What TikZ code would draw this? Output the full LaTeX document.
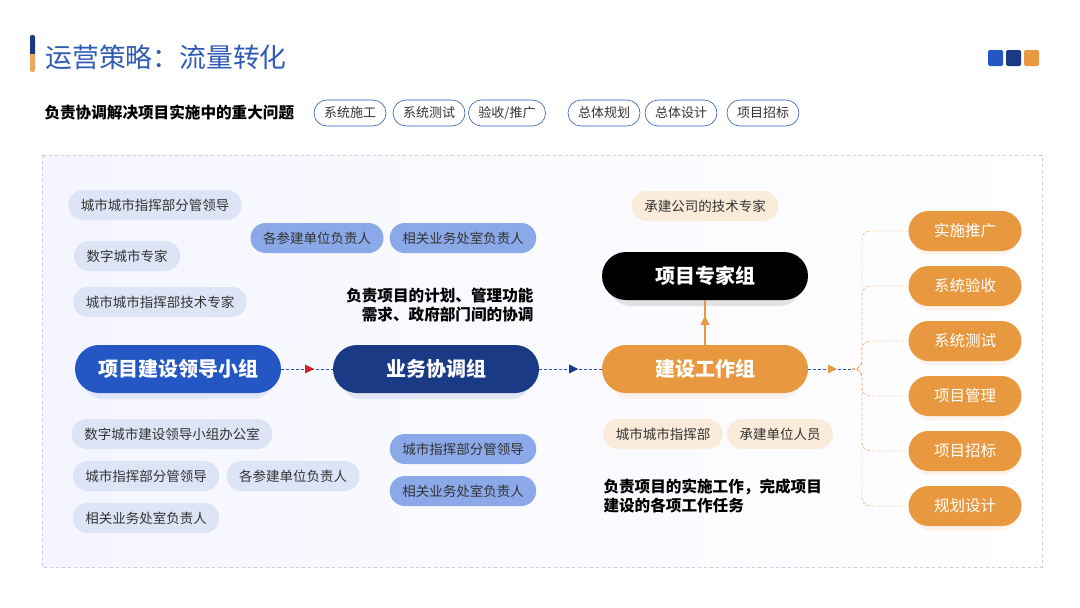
\documentclass[tikz,border=0pt]{standalone}
\usepackage{fontspec}
\newfontfamily\cjk{Noto Sans CJK SC}
\usepackage{xcolor}
\usetikzlibrary{arrows.meta,positioning,calc,decorations.markings,shadows}

\definecolor{titleblue}{HTML}{2F5BB7}
\definecolor{leadblue}{HTML}{2456C4}
\definecolor{darkblue}{HTML}{1B3A86}
\definecolor{workorange}{HTML}{E8993F}
\definecolor{palepill}{HTML}{DCE4F6}
\definecolor{midpill}{HTML}{8BA9E8}
\definecolor{sandpill}{HTML}{FAEBDA}
\definecolor{pilltext}{HTML}{333333}
\definecolor{framegray}{HTML}{C8CCD4}
\definecolor{tipred}{HTML}{D0202A}

\tikzset{
  pill/.style={rounded corners=15pt, minimum height=30pt, inner xsep=12.5pt, inner ysep=0pt,
    font=\cjk\fontsize{13.5}{15}\selectfont, text=pilltext},
  lightpill/.style={pill, fill=palepill},
  bluepill/.style={pill, fill=midpill},
  beigepill/.style={pill, fill=sandpill},
  tagpill/.style={draw=titleblue, semithick, rounded corners=13pt, minimum height=26pt,
    inner xsep=10pt, inner ysep=0pt, font=\cjk\fontsize{13}{14}\selectfont, text=pilltext},
  groupbox/.style={rounded corners=24pt, minimum width=206pt, minimum height=48pt, text=white,
    font=\cjk\bfseries\fontsize{20}{22}\selectfont,
    general shadow={fill=#1, fill opacity=0.10, shadow yshift=-8pt, shadow scale=0.94},
    fill=#1},
  taskbox/.style={fill=workorange, rounded corners=20pt, minimum width=113pt, minimum height=40pt,
    text=white, font=\cjk\fontsize{15.5}{18}\selectfont,
    general shadow={fill=workorange, fill opacity=0.10, shadow yshift=-6pt, shadow scale=0.94}},
  flow/.style={densely dashed, thin, leadblue},
  branch/.style={densely dashed, thin, workorange, rounded corners=8pt},
  note/.style={font=\cjk\bfseries\fontsize{15.6}{19}\selectfont, text=black},
  midtip/.style={postaction={decorate}, decoration={markings, mark=at position 0.55 with
    {\fill[#1] (-4.5pt,-4.5pt) -- (4.5pt,0pt) -- (-4.5pt,4.5pt) -- cycle;}}}
}

\begin{document}
\begin{tikzpicture}[x=1pt, y=-1pt]

\useasboundingbox (0, 0) rectangle (1080, 608);
\fill[white] (0, 0) rectangle (1080, 608);

% ==================== HEADER ====================
\fill[darkblue, rounded corners=2pt] (30, 35) rectangle (35, 56);
\fill[workorange!85!white, rounded corners=2pt] (30, 54) rectangle (35, 72);
\fill[workorange!85!white] (30, 54) rectangle (35, 60);
\node[font=\cjk\fontsize{26.8}{30}\selectfont, text=titleblue, anchor=west] (title) at (42, 57)
  {运营策略：流量转化};

% Corner squares
\fill[leadblue, rounded corners=1.5pt] (988, 50) rectangle (1003, 66);
\fill[darkblue, rounded corners=1.5pt] (1006, 50) rectangle (1021, 66);
\fill[workorange, rounded corners=1.5pt] (1024, 50) rectangle (1039, 66);

% Subtitle and tags
\node[font=\cjk\bfseries\fontsize{15.6}{18}\selectfont, anchor=west] (duty) at (41, 113)
  {负责协调解决项目实施中的重大问题};
\node[tagpill] (tag1) at (350, 113) {系统施工};
\node[tagpill] (tag2) at (429, 113) {系统测试};
\node[tagpill] (tag3) at (507, 113) {验收/推广};
\node[tagpill] (tag4) at (604, 113) {总体规划};
\node[tagpill] (tag5) at (681, 113) {总体设计};
\node[tagpill] (tag6) at (763, 113) {项目招标};

% ==================== FRAME ====================
\shade[left color=blue!4!white, right color=white] (42, 155) rectangle (1042, 567);
\draw[framegray, dashed] (42, 155) rectangle (1042, 567);

% ==================== LEADING GROUP ====================
\node[lightpill] (lead1) at (155, 205) {城市城市指挥部分管领导};
\node[lightpill] (lead2) at (127, 256) {数字城市专家};
\node[lightpill] (lead3) at (160, 302) {城市城市指挥部技术专家};
\node[lightpill] (lead4) at (172, 434) {数字城市建设领导小组办公室};
\node[lightpill] (lead5) at (146, 476) {城市指挥部分管领导};
\node[lightpill] (lead6) at (293, 476) {各参建单位负责人};
\node[lightpill] (lead7) at (146, 518) {相关业务处室负责人};

% ==================== COORDINATION GROUP ====================
\node[bluepill] (coord1) at (317, 238) {各参建单位负责人};
\node[bluepill] (coord2) at (463, 238) {相关业务处室负责人};
\node[bluepill] (coord3) at (463, 449) {城市指挥部分管领导};
\node[bluepill] (coord4) at (463, 491) {相关业务处室负责人};
\node[note, align=right, anchor=east] (coordnote) at (537, 305)
  {负责项目的计划、管理功能\\需求、政府部门间的协调};

% ==================== WORK GROUP ====================
\node[beigepill] (work1) at (705, 206) {承建公司的技术专家};
\node[beigepill] (work2) at (663, 434) {城市城市指挥部};
\node[beigepill] (work3) at (780, 434) {承建单位人员};
\node[note, align=left, anchor=west] (worknote) at (600, 496)
  {负责项目的实施工作，完成项目\\建设的各项工作任务};

% Main chain
\node[groupbox=leadblue] (lead) at (178, 369) {项目建设领导小组};
\node[groupbox=darkblue] (coord) at (436, 369) {业务协调组};
\node[groupbox=workorange] (work) at (705, 369) {建设工作组};
\node[groupbox=black] (expert) at (705, 276) {项目专家组};

\coordinate (hub) at (852, 369);
\coordinate (trunk) at (862, 369);

\draw[flow, midtip=tipred] (lead.east) -- (coord.west);
\draw[flow, midtip=darkblue] (coord.east) -- (work.west);
\draw[flow, midtip=workorange] (work.east) -- (hub);
\draw[workorange, line width=2pt, midtip=workorange] (work.north) -- (expert.south);

% Tasks
\foreach \txt [count=\i] in {实施推广, 系统验收, 系统测试, 项目管理, 项目招标, 规划设计}
  \node[taskbox] (task\i) at (965, 176 + 55*\i) {\txt};
\foreach \i in {1,...,6}
  \draw[branch] (hub) -| (trunk |- task\i) -- (task\i.west);

\end{tikzpicture}
\end{document}
